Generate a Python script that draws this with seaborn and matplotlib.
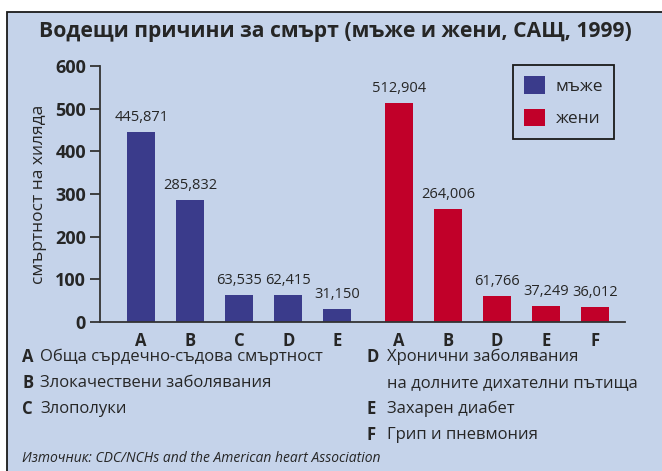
import pandas as pd
import matplotlib.pyplot as plt
import seaborn as sns
from matplotlib.patches import Rectangle

# data
men_labels = ['A', 'B', 'C', 'D', 'E']
men_values = [445.871, 285.832, 63.535, 62.415, 31.150]
women_labels = ['A', 'B', 'D', 'E', 'F']
women_values = [512.904, 264.006, 61.766, 37.249, 36.012]
men_pos = [0, 1, 2, 3, 4]
women_pos = [5.25, 6.25, 7.25, 8.25, 9.25]
series_names = ['мъже', 'жени']
y_ticks = [0, 100, 200, 300, 400, 500, 600]

notes_left = [('A', 'Обща сърдечно-съдова смъртност'),
              ('B', 'Злокачествени заболявания'),
              ('C', 'Злополуки')]
notes_right = [('D', 'Хронични заболявания'),
               ('', 'на долните дихателни пътища'),
               ('E', 'Захарен диабет'),
               ('F', 'Грип и пневмония')]
source = 'Източник: CDC/NCHs and the American heart Association'
title = 'Водещи причини за смърт (мъже и жени, САЩ, 1999)'
ylabel = 'смъртност на хиляда'

bg = '#c5d3ea'
blue = '#3a3b8b'
red = '#c10029'

sns.set_style('white')
plt.rcParams['font.family'] = ['Open Sans', 'DejaVu Sans']

df = pd.DataFrame({
    'pos': men_pos + women_pos,
    'value': men_values + women_values,
    'sex': [series_names[0]] * len(men_pos) + [series_names[1]] * len(women_pos),
})

fig = plt.figure(figsize=(6.62, 4.71), dpi=100)
fig.patch.set_facecolor('white')
fig.patches.append(Rectangle((7 / 662, -0.05), 1.2, (471 - 12) / 471 + 0.05,
                             transform=fig.transFigure, facecolor=bg,
                             edgecolor='#1a1a1a', linewidth=1.3, zorder=-5))

ax = fig.add_axes([100 / 662, (471 - 322) / 471, (625 - 100) / 662, (322 - 66) / 471])
ax.set_facecolor('none')

sns.barplot(data=df, x='pos', y='value', hue='sex', native_scale=True, dodge=False,
            palette=[blue, red], width=0.57, ax=ax, saturation=1, legend=True,
            linewidth=0)

for cont, vals in zip(ax.containers, [men_values, women_values]):
    ax.bar_label(cont, labels=[f'{v:,.3f}'.replace('.', ',') for v in vals],
                 padding=5, fontsize=10.5)

ax.set_ylim(0, 600)
ax.set_xlim(-0.84, 9.86)
ax.set_yticks(y_ticks)
ax.set_yticklabels([str(t) for t in y_ticks], fontweight='bold', fontsize=13)
ax.set_xticks(men_pos + women_pos)
ax.set_xticklabels(men_labels + women_labels, fontweight='bold', fontsize=12)
ax.tick_params(axis='x', length=0, pad=7)
ax.tick_params(axis='y', length=7, width=1.3, color='#333333', pad=3, left=True)
for s in ['top', 'right']:
    ax.spines[s].set_visible(False)
for s in ['left', 'bottom']:
    ax.spines[s].set_color('#333333')
    ax.spines[s].set_linewidth(1.3)
ax.set_xlabel('')
ax.set_ylabel(ylabel, fontsize=12.5, labelpad=6)

handles, labels = ax.get_legend_handles_labels()
leg = ax.legend(handles, labels, loc='upper right', bbox_to_anchor=(0.98, 1.005),
                fontsize=12.5, frameon=True, fancybox=False, facecolor=bg,
                edgecolor='#1a1a1a', framealpha=1, handlelength=1.2, handleheight=1.2,
                labelspacing=0.8, borderpad=0.65, handletextpad=0.6, borderaxespad=0)
leg.get_frame().set_linewidth(1.3)

fig.text(335 / 662, 1 - 32 / 471, title, ha='center', va='center',
         fontsize=15.2, fontweight='bold')

row_y = [357, 383, 409, 435]
for i, (k, t) in enumerate(notes_left):
    y = 1 - row_y[i] / 471
    fig.text(22 / 662, y, k, fontweight='bold', fontsize=12, va='center')
    fig.text(40 / 662, y, t, fontsize=12, va='center')
for i, (k, t) in enumerate(notes_right):
    y = 1 - row_y[i] / 471
    if k:
        fig.text(367 / 662, y, k, fontweight='bold', fontsize=12, va='center')
    fig.text(387 / 662, y, t, fontsize=12, va='center')
fig.text(22 / 662, 1 - 459 / 471, source, fontsize=10, style='italic', va='center')

fig.savefig('out.png', dpi=100, facecolor=fig.get_facecolor())
